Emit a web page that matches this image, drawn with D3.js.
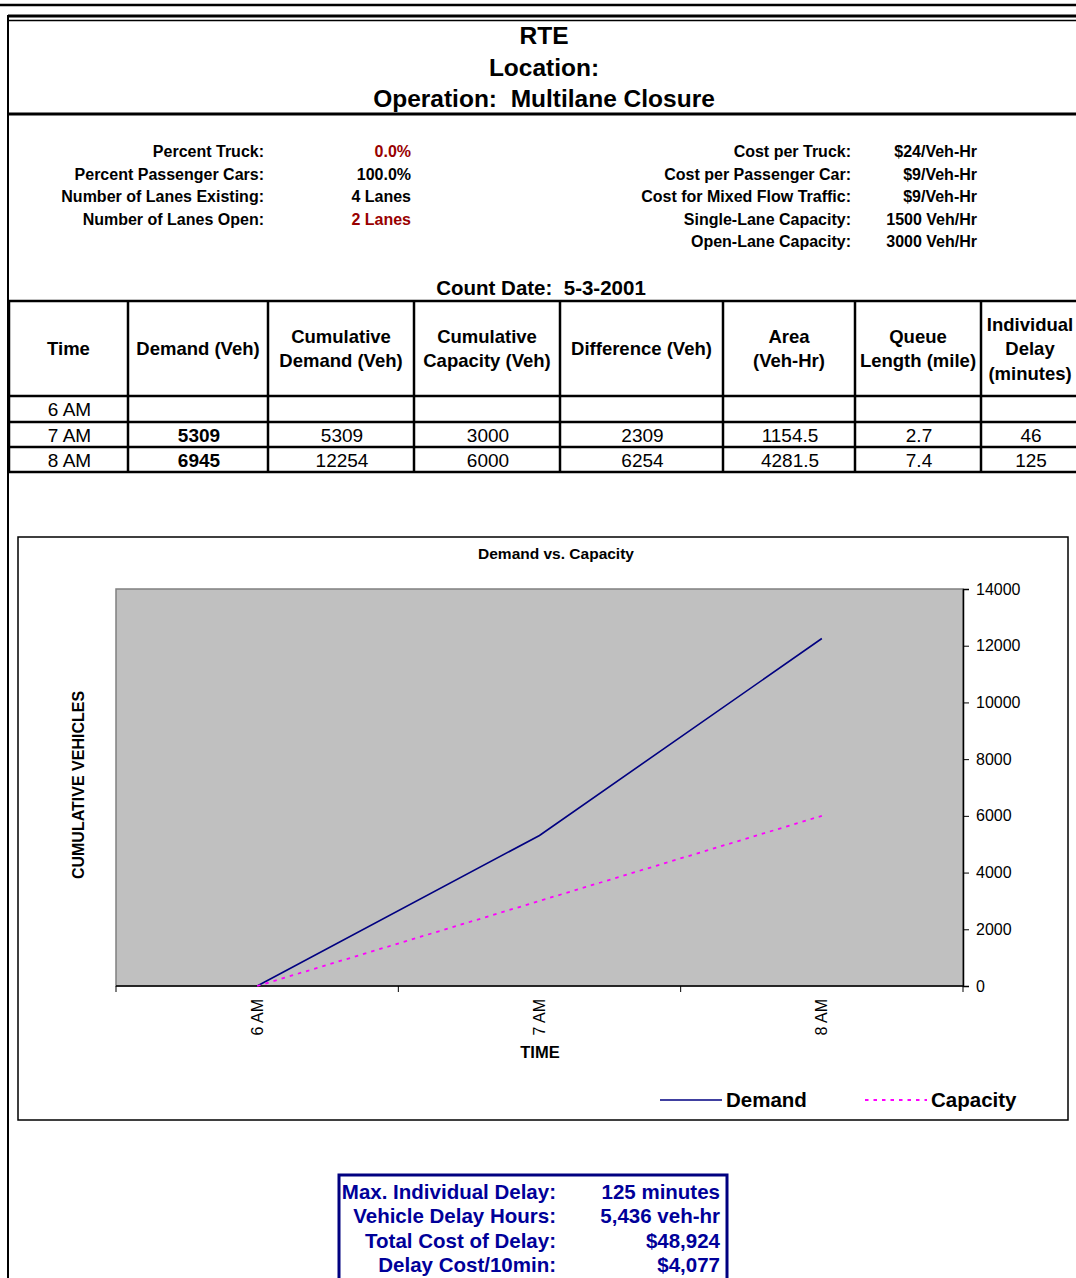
<!DOCTYPE html>
<html>
<head>
<meta charset="utf-8">
<script src="https://d3js.org/d3.v7.min.js"></script>
<style>
  body { margin: 0; background: #fff; }
  svg { font-family: "Liberation Sans", Arial, sans-serif; display: block; }
  svg text { white-space: pre; }
  .b { font-weight: bold; }
</style>
</head>
<body>
<div id="page"></div>
<script>
// header text
var titleLines = ["RTE", "Location:", "Operation:  Multilane Closure"];

// parameter block
var leftLabels = ["Percent Truck:", "Percent Passenger Cars:", "Number of Lanes Existing:", "Number of Lanes Open:"];
var leftValues = ["0.0%", "100.0%", "4 Lanes", "2 Lanes"];
var leftRed = [true, false, false, true];
var rightLabels = ["Cost per Truck:", "Cost per Passenger Car:", "Cost for Mixed Flow Traffic:", "Single-Lane Capacity:", "Open-Lane Capacity:"];
var rightValues = ["$24/Veh-Hr", "$9/Veh-Hr", "$9/Veh-Hr", "1500 Veh/Hr", "3000 Veh/Hr"];
var countDate = "Count Date:  5-3-2001";

// table
var headers = [["Time"], ["Demand (Veh)"], ["Cumulative", "Demand (Veh)"], ["Cumulative", "Capacity (Veh)"],
  ["Difference (Veh)"], ["Area", "(Veh-Hr)"], ["Queue", "Length (mile)"], ["Individual", "Delay", "(minutes)"]];
var times = ["6 AM", "7 AM", "8 AM"];
var demand = [null, 5309, 6945];
var cumDemand = [0, 5309, 12254];
var cumCapacity = [0, 3000, 6000];
var difference = [null, 2309, 6254];
var area = [null, "1154.5", "4281.5"];
var queueLen = [null, "2.7", "7.4"];
var indDelay = [null, 46, 125];

// chart
var yTicks = [0, 2000, 4000, 6000, 8000, 10000, 12000, 14000];
var seriesNames = ["Demand", "Capacity"];

// summary box
var summaryLabels = ["Max. Individual Delay:", "Vehicle Delay Hours:", "Total Cost of Delay:", "Delay Cost/10min:"];
var summaryValues = ["125 minutes", "5,436 veh-hr", "$48,924", "$4,077"];

var W = 1076, H = 1278;
var svg = d3.select("#page").append("svg").attr("width", W).attr("height", H);

/* page frame */
svg.append("line").attr("x1", 0).attr("x2", W).attr("y1", 5).attr("y2", 5).attr("stroke", "#000").attr("stroke-width", 2.5);
svg.append("line").attr("x1", 8).attr("x2", W).attr("y1", 16).attr("y2", 16).attr("stroke", "#000").attr("stroke-width", 3);
svg.append("line").attr("x1", 8).attr("x2", W).attr("y1", 20.5).attr("y2", 20.5).attr("stroke", "#000").attr("stroke-width", 1.5);
svg.append("line").attr("x1", 8).attr("x2", 8).attr("y1", 15).attr("y2", H).attr("stroke", "#000").attr("stroke-width", 2);
svg.append("line").attr("x1", 8).attr("x2", W).attr("y1", 114).attr("y2", 114).attr("stroke", "#000").attr("stroke-width", 3);

/* titles */
svg.selectAll(".title").data(titleLines).enter().append("text")
  .attr("class", "title b")
  .attr("x", 544).attr("y", (d, i) => 44 + i * 31.5)
  .attr("text-anchor", "middle").style("font-size", "24.5px")
  .text(d => d);

/* parameters */
var pRow = d3.scaleLinear().domain([0, 1]).range([157, 179.5]);
var pSize = "16px";
svg.selectAll(".ll").data(leftLabels).enter().append("text")
  .attr("class", "b").attr("x", 264).attr("y", (d, i) => pRow(i))
  .attr("text-anchor", "end").style("font-size", pSize).text(d => d);
svg.selectAll(".lv").data(leftValues).enter().append("text")
  .attr("class", "b").attr("x", 411).attr("y", (d, i) => pRow(i))
  .attr("text-anchor", "end").style("font-size", pSize)
  .attr("fill", (d, i) => leftRed[i] ? "#990000" : "#000").text(d => d);
svg.selectAll(".rl").data(rightLabels).enter().append("text")
  .attr("class", "b").attr("x", 851).attr("y", (d, i) => pRow(i))
  .attr("text-anchor", "end").style("font-size", pSize).text(d => d);
svg.selectAll(".rv").data(rightValues).enter().append("text")
  .attr("class", "b").attr("x", 977).attr("y", (d, i) => pRow(i))
  .attr("text-anchor", "end").style("font-size", pSize).text(d => d);

svg.append("text").attr("class", "b").attr("x", 541).attr("y", 295)
  .attr("text-anchor", "middle").style("font-size", "20.5px").text(countDate);

/* table */
var colEdges = [9, 128, 268, 414, 560, 723, 855, 981, 1080];
var rowEdges = [301, 396, 422, 447, 472];
var tbl = svg.append("g");
rowEdges.forEach(function(y) {
  tbl.append("line").attr("x1", 8).attr("x2", W).attr("y1", y).attr("y2", y)
    .attr("stroke", "#000").attr("stroke-width", 2.5);
});
colEdges.forEach(function(x) {
  tbl.append("line").attr("x1", x).attr("x2", x).attr("y1", 301).attr("y2", 472)
    .attr("stroke", "#000").attr("stroke-width", 2.5);
});
headers.forEach(function(h, c) {
  var cx = (colEdges[c] + colEdges[c + 1]) / 2;
  if (c === 7) cx = 1030;
  var lh = 24.5, mid = 355;
  h.forEach(function(t, k) {
    tbl.append("text").attr("class", "b").attr("x", cx)
      .attr("y", mid + (k - (h.length - 1) / 2) * lh)
      .attr("text-anchor", "middle").style("font-size", "18.5px").text(t);
  });
});
var cols = [times, demand, cumDemand.map((d, i) => i === 0 ? null : d), cumCapacity.map((d, i) => i === 0 ? null : d),
  difference, area, queueLen, indDelay];
cols.forEach(function(col, c) {
  var cx = (colEdges[c] + colEdges[c + 1]) / 2;
  if (c === 7) cx = 1030;
  col.forEach(function(v, r) {
    if (v === null) return;
    tbl.append("text").attr("class", c === 1 ? "b" : null).attr("x", cx + 1)
      .attr("y", (rowEdges[r + 1] + rowEdges[r + 2]) / 2 + 7)
      .attr("text-anchor", "middle").style("font-size", "19px").text(v);
  });
});

/* chart box */
svg.append("rect").attr("x", 18).attr("y", 537).attr("width", 1050).attr("height", 583)
  .attr("fill", "#fff").attr("stroke", "#000").attr("stroke-width", 1.5);
svg.append("text").attr("class", "b").attr("x", 556).attr("y", 559)
  .attr("text-anchor", "middle").style("font-size", "15.5px").text("Demand vs. Capacity");

var plot = {left: 116, right: 963, top: 589, bottom: 986};
var x = d3.scaleBand().domain(times).range([plot.left, plot.right]).padding(0);
var y = d3.scaleLinear().domain([0, 14000]).range([plot.bottom, plot.top]);

svg.append("rect").attr("x", plot.left).attr("y", plot.top)
  .attr("width", plot.right - plot.left).attr("height", plot.bottom - plot.top)
  .attr("fill", "#C0C0C0").attr("stroke", "#808080").attr("stroke-width", 1.5);

// right y axis
var yAxis = d3.axisRight(y).tickValues(yTicks).tickSize(6).tickPadding(7).tickFormat(d3.format("d"));
var yg = svg.append("g").attr("transform", `translate(${plot.right},0)`).call(yAxis);
yg.select(".domain").attr("stroke", "#000").attr("stroke-width", 1.5);
yg.selectAll("text").style("font-size", "16px").attr("fill", "#000").style("font-family", "Liberation Sans, Arial, sans-serif");

// bottom x axis with ticks at category boundaries
var xg = svg.append("g");
xg.append("line").attr("x1", plot.left).attr("x2", plot.right).attr("y1", plot.bottom).attr("y2", plot.bottom)
  .attr("stroke", "#000").attr("stroke-width", 1.5);
var bounds = times.map(t => x(t)).concat([x(times[times.length - 1]) + x.bandwidth()]);
xg.selectAll(".xt").data(bounds).enter().append("line")
  .attr("x1", d => d).attr("x2", d => d).attr("y1", plot.bottom).attr("y2", plot.bottom + 6)
  .attr("stroke", "#000").attr("stroke-width", 1);
xg.selectAll(".xl").data(times).enter().append("text")
  .attr("transform", d => `translate(${x(d) + x.bandwidth() / 2 + 5.5},999) rotate(-90)`)
  .attr("text-anchor", "end").style("font-size", "16px").text(d => d);

svg.append("text").attr("class", "b").attr("x", 540).attr("y", 1058)
  .attr("text-anchor", "middle").style("font-size", "16.5px").text("TIME");
svg.append("text").attr("class", "b")
  .attr("transform", "translate(84,785) rotate(-90)")
  .attr("text-anchor", "middle").style("font-size", "16px").text("CUMULATIVE VEHICLES");

// lines
var line = d3.line().x((d, i) => x(times[i]) + x.bandwidth() / 2).y(d => y(d));
svg.append("path").attr("d", line(cumDemand)).attr("fill", "none")
  .attr("stroke", "#000080").attr("stroke-width", 1.6);
svg.append("path").attr("d", line(cumCapacity)).attr("fill", "none")
  .attr("stroke", "#FF00FF").attr("stroke-width", 1.8).attr("stroke-dasharray", "3.5,5");

// legend
var legX = [660, 865];
var leg = svg.selectAll(".leg").data(seriesNames).enter().append("g")
  .attr("transform", (d, i) => `translate(${legX[i]},1100)`);
leg.append("line").attr("x1", 0).attr("x2", 62).attr("y1", 0).attr("y2", 0)
  .attr("stroke", (d, i) => i === 0 ? "#000080" : "#FF00FF")
  .attr("stroke-width", (d, i) => i === 0 ? 1.6 : 1.8)
  .attr("stroke-dasharray", (d, i) => i === 0 ? null : "3.5,5");
leg.append("text").attr("class", "b").attr("x", 66).attr("y", 7)
  .style("font-size", "20.5px").text(d => d);

/* summary box */
svg.append("rect").attr("x", 339).attr("y", 1175).attr("width", 388).attr("height", 130)
  .attr("fill", "none").attr("stroke", "#000080").attr("stroke-width", 3);
svg.selectAll(".sl").data(summaryLabels).enter().append("text")
  .attr("class", "b").attr("x", 556).attr("y", (d, i) => 1199 + i * 24.3)
  .attr("text-anchor", "end").attr("fill", "#000099").style("font-size", "20.5px").text(d => d);
svg.selectAll(".sv").data(summaryValues).enter().append("text")
  .attr("class", "b").attr("x", 720).attr("y", (d, i) => 1199 + i * 24.3)
  .attr("text-anchor", "end").attr("fill", "#000099").style("font-size", "20.5px").text(d => d);
</script>
</body>
</html>
